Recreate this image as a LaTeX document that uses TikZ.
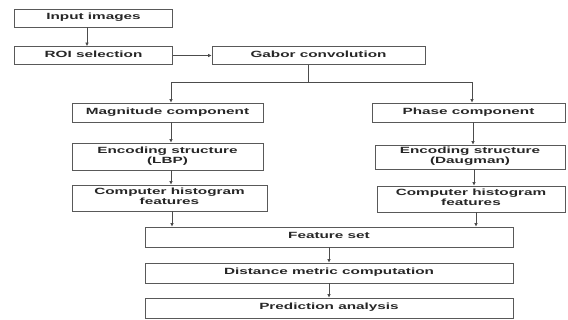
\documentclass[tikz,border=0pt]{standalone}
\usepackage{fontspec}
\setmainfont{Liberation Sans}
\usepackage{graphicx}
\usetikzlibrary{arrows.meta}
\newcommand{\boxtxt}[1]{\scalebox{1.7}[1]{\fontsize{9}{10}\selectfont\bfseries\begin{tabular}{@{}c@{}}#1\end{tabular}}}
\begin{document}
\begin{tikzpicture}[x=1pt,y=-1pt,
  box/.style={draw=black!65, line width=0.8pt, fill=white, inner sep=0pt, text=black!85},
  arr/.style={draw=black!70, line width=0.8pt, -{Latex[length=3.5pt,width=3.5pt]}},
  ln/.style={draw=black!70, line width=0.8pt}]
\useasboundingbox[fill=white] (0,0) rectangle (568,320);
\node[box, minimum width=158, minimum height=18] (in) at (93.5,18) {\boxtxt{Input images}};
\node[box, minimum width=158, minimum height=18] (roi) at (93.5,55.5) {\boxtxt{ROI selection}};
\node[box, minimum width=213, minimum height=18] (gab) at (318.5,55.5) {\boxtxt{Gabor convolution}};
\node[box, minimum width=191, minimum height=19] (mag) at (167.5,112.5) {\boxtxt{Magnitude component}};
\node[box, minimum width=191, minimum height=27] (lbp) at (167.5,156.5) {\boxtxt{Encoding structure\\(LBP)}};
\node[box, minimum width=195, minimum height=26] (lh) at (169.5,198) {\boxtxt{Computer histogram\\features}};
\node[box, minimum width=193, minimum height=19] (ph) at (468.5,112.5) {\boxtxt{Phase component}};
\node[box, minimum width=190, minimum height=24] (dg) at (470,157) {\boxtxt{Encoding structure\\(Daugman)}};
\node[box, minimum width=188, minimum height=26] (rh) at (471,199) {\boxtxt{Computer histogram\\features}};
\node[box, minimum width=368, minimum height=20] (fs) at (329,237) {\boxtxt{Feature set}};
\node[box, minimum width=368, minimum height=20] (dm) at (329,273) {\boxtxt{Distance metric computation}};
\node[box, minimum width=368, minimum height=20] (pa) at (329,308) {\boxtxt{Prediction analysis}};
\coordinate (sp) at (308,82);
\draw[arr] (in.south -| 87,0) -- (roi.north -| 87,0);
\draw[arr] (roi.east) -- (gab.west);
\draw[ln] (gab.south -| sp) -- (sp);
\draw[arr] (sp) -| (mag.north -| 171,0);
\draw[arr] (sp) -| (ph.north -| 472,0);
\draw[arr] (mag.south -| 171,0) -- (lbp.north -| 171,0);
\draw[arr] (lbp.south -| 171,0) -- (lh.north -| 171,0);
\draw[arr] (lh.south -| 172,0) -- (fs.north -| 172,0);
\draw[arr] (ph.south -| 473,0) -- (dg.north -| 473,0);
\draw[arr] (dg.south -| 474,0) -- (rh.north -| 474,0);
\draw[arr] (rh.south -| 476,0) -- (fs.north -| 476,0);
\draw[arr] (fs.south -| 329,0) -- (dm.north -| 329,0);
\draw[arr] (dm.south -| 329,0) -- (pa.north -| 329,0);
\end{tikzpicture}
\end{document}
